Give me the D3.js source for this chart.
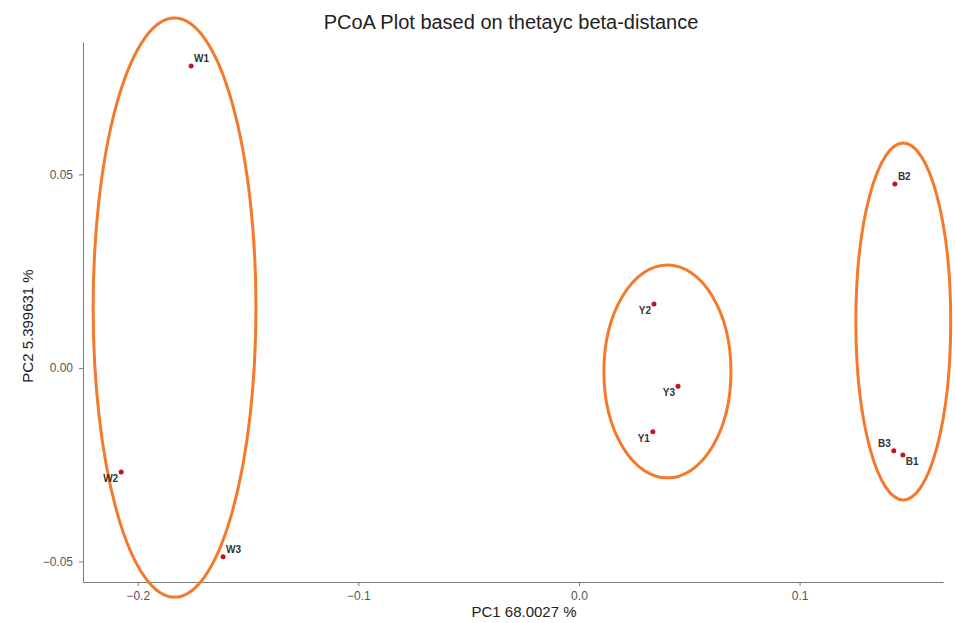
<!DOCTYPE html>
<html>
<head>
<meta charset="utf-8">
<script src="https://cdn.jsdelivr.net/npm/d3@7"></script>
<style>
  body { margin: 0; background: #fff; }
</style>
</head>
<body>
<div id="chart"></div>
<script>
// sample points (PC1, PC2)
const samples = ["W1", "W2", "W3", "Y2", "Y3", "Y1", "B2", "B3", "B1"];
const pc1 = [-0.1758, -0.2075, -0.1613, 0.0340, 0.0449, 0.0335, 0.1432, 0.1427, 0.1468];
const pc2 = [0.0780, -0.0269, -0.0488, 0.0165, -0.0047, -0.0165, 0.0475, -0.0214, -0.0225];
const labelSide = ["ne", "sw", "ne", "sw", "sw", "sw", "ne", "nw", "se"];

// group ellipses
const groups = ["W", "Y", "B"];
const ellCx = [-0.1833, 0.0401, 0.1470];
const ellCy = [0.0156, -0.0009, 0.0120];
const ellRx = [0.0369, 0.0288, 0.0215];
const ellRy = [0.0748, 0.0275, 0.0461];

const xTicks = [-0.2, -0.1, 0.0, 0.1];
const yTicks = [-0.05, 0.00, 0.05];

const width = 955, height = 623;
const margin = {top: 42, right: 12, bottom: 41, left: 83};

const x = d3.scaleLinear([-0.2248, 0.165], [margin.left, width - margin.right]);
const y = d3.scaleLinear([-0.0553, 0.0842], [height - margin.bottom, margin.top]);

const svg = d3.select("#chart").append("svg")
    .attr("width", width)
    .attr("height", height)
    .attr("font-family", "Liberation Sans, Arial, sans-serif");

// axes
svg.append("g")
    .attr("transform", `translate(0,${height - margin.bottom})`)
    .call(d3.axisBottom(x).tickValues(xTicks).tickFormat(d3.format(".1f")).tickSize(4).tickSizeOuter(0))
    .call(g => g.select(".domain").attr("stroke", "#7a7a7a"))
    .call(g => g.selectAll(".tick line").attr("stroke", "#7a7a7a"))
    .call(g => g.selectAll(".tick text").attr("fill", "#555").attr("font-size", 12).attr("dy", "0.9em"));

svg.append("g")
    .attr("transform", `translate(${margin.left},0)`)
    .call(d3.axisLeft(y).tickValues(yTicks).tickFormat(d3.format(".2f")).tickSize(4).tickPadding(6).tickSizeOuter(0))
    .call(g => g.select(".domain").attr("stroke", "#7a7a7a"))
    .call(g => g.selectAll(".tick line").attr("stroke", "#7a7a7a"))
    .call(g => g.selectAll(".tick text").attr("fill", "#555").attr("font-size", 12));

// ellipses
svg.append("g")
  .selectAll("ellipse")
  .data(groups)
  .join("ellipse")
    .attr("cx", (d, i) => x(ellCx[i]))
    .attr("cy", (d, i) => y(ellCy[i]))
    .attr("rx", (d, i) => x(ellCx[i] + ellRx[i]) - x(ellCx[i]))
    .attr("ry", (d, i) => y(ellCy[i]) - y(ellCy[i] + ellRy[i]))
    .attr("fill", "none")
    .attr("stroke", "#f5792a")
    .attr("stroke-width", 3);

// points
svg.append("g")
  .selectAll("circle")
  .data(samples)
  .join("circle")
    .attr("cx", (d, i) => x(pc1[i]))
    .attr("cy", (d, i) => y(pc2[i]))
    .attr("r", 2.5)
    .attr("fill", "#c3141f");

// labels
const off = {ne: [3, -4, "start"], sw: [-3, 10, "end"], nw: [-3, -4, "end"], se: [3, 10, "start"]};
svg.append("g")
  .selectAll("text")
  .data(samples)
  .join("text")
    .attr("x", (d, i) => x(pc1[i]) + off[labelSide[i]][0])
    .attr("y", (d, i) => y(pc2[i]) + off[labelSide[i]][1])
    .attr("text-anchor", (d, i) => off[labelSide[i]][2])
    .attr("font-size", 10)
    .attr("font-weight", "bold")
    .attr("fill", "#333")
    .text(d => d);

// titles
svg.append("text")
    .attr("x", 511).attr("y", 29)
    .attr("text-anchor", "middle")
    .attr("font-size", 20)
    .attr("fill", "#222")
    .text("PCoA Plot based on thetayc beta-distance");

svg.append("text")
    .attr("x", 524)
    .attr("y", 617)
    .attr("text-anchor", "middle")
    .attr("font-size", 15)
    .attr("fill", "#222")
    .text("PC1  68.0027 %");

svg.append("text")
    .attr("transform", `translate(33,326) rotate(-90)`)
    .attr("text-anchor", "middle")
    .attr("font-size", 15)
    .attr("fill", "#222")
    .text("PC2  5.399631 %");
</script>
</body>
</html>
